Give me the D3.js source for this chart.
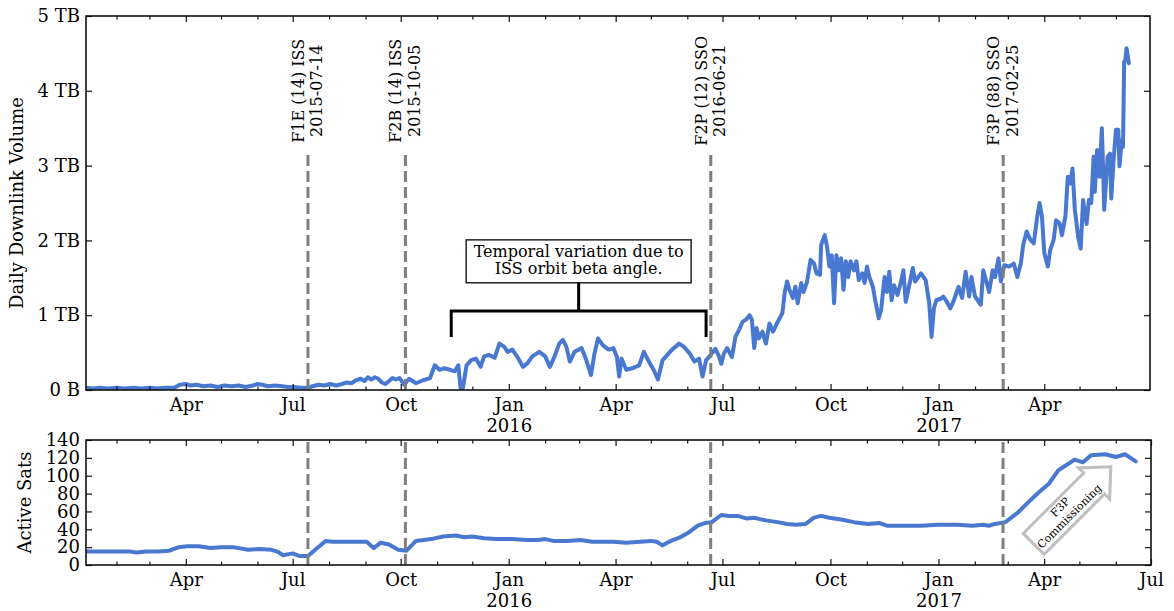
<!DOCTYPE html>
<html>
<head>
<meta charset="utf-8">
<script src="https://cdn.jsdelivr.net/npm/d3@7"></script>
<style>
  html, body { margin: 0; padding: 0; background: #fff; }
  svg { display: block; font-family: 'DejaVu Serif', serif; }
</style>
</head>
<body>
<svg id="chart" width="1174" height="611"></svg>
<script>
// ---- Daily downlink volume (TB) ----
const downlinkDates = [
  "2015-01-06","2015-01-12","2015-01-18","2015-01-25",
  "2015-02-01","2015-02-08","2015-02-15","2015-02-22",
  "2015-03-01","2015-03-08","2015-03-15","2015-03-22","2015-03-27",
  "2015-04-01","2015-04-05","2015-04-10","2015-04-16","2015-04-22","2015-04-28",
  "2015-05-04","2015-05-10","2015-05-16","2015-05-22","2015-05-28",
  "2015-06-01","2015-06-05","2015-06-10","2015-06-16","2015-06-22","2015-06-27",
  "2015-07-02","2015-07-08","2015-07-14","2015-07-18","2015-07-23","2015-07-28",
  "2015-08-02","2015-08-07","2015-08-12","2015-08-16","2015-08-20","2015-08-24","2015-08-28","2015-08-31",
  "2015-09-03","2015-09-06","2015-09-09","2015-09-12","2015-09-15","2015-09-18","2015-09-21","2015-09-24","2015-09-27","2015-09-30",
  "2015-10-04","2015-10-08","2015-10-14","2015-10-20","2015-10-26","2015-10-30",
  "2015-11-03","2015-11-07","2015-11-12","2015-11-16","2015-11-19","2015-11-21","2015-11-23","2015-11-26","2015-11-30",
  "2015-12-04","2015-12-08","2015-12-11","2015-12-15","2015-12-20","2015-12-24","2015-12-28","2015-12-31",
  "2016-01-04","2016-01-08","2016-01-13","2016-01-17","2016-01-21","2016-01-27",
  "2016-02-01","2016-02-05","2016-02-09","2016-02-13","2016-02-16","2016-02-19","2016-02-22","2016-02-26",
  "2016-03-03","2016-03-07","2016-03-11","2016-03-14","2016-03-17","2016-03-21","2016-03-26","2016-03-30",
  "2016-04-02","2016-04-04","2016-04-06","2016-04-10","2016-04-15","2016-04-21","2016-04-25","2016-04-30",
  "2016-05-04","2016-05-07","2016-05-11","2016-05-15","2016-05-19","2016-05-25","2016-05-29",
  "2016-06-03","2016-06-07","2016-06-11","2016-06-14","2016-06-17","2016-06-21","2016-06-25","2016-06-28","2016-06-30",
  "2016-07-02","2016-07-05","2016-07-07","2016-07-09","2016-07-12","2016-07-15","2016-07-18","2016-07-21","2016-07-24","2016-07-26","2016-07-28","2016-07-30",
  "2016-08-01","2016-08-04","2016-08-07","2016-08-10","2016-08-13","2016-08-17","2016-08-21","2016-08-23","2016-08-25","2016-08-27","2016-08-30",
  "2016-09-01","2016-09-03","2016-09-06","2016-09-08","2016-09-11","2016-09-14","2016-09-17","2016-09-19","2016-09-22","2016-09-23","2016-09-26","2016-09-28","2016-09-30",
  "2016-10-02","2016-10-04","2016-10-06","2016-10-08","2016-10-10","2016-10-12","2016-10-14","2016-10-16","2016-10-18","2016-10-21","2016-10-23","2016-10-25","2016-10-28","2016-10-30",
  "2016-11-01","2016-11-03","2016-11-06","2016-11-08","2016-11-11","2016-11-13","2016-11-16","2016-11-18","2016-11-20","2016-11-22","2016-11-24","2016-11-27","2016-11-30",
  "2016-12-02","2016-12-04","2016-12-07","2016-12-10","2016-12-12","2016-12-17","2016-12-21","2016-12-24","2016-12-26","2016-12-28","2016-12-30",
  "2017-01-03","2017-01-05","2017-01-08","2017-01-11","2017-01-14","2017-01-18","2017-01-21","2017-01-24","2017-01-27","2017-01-29",
  "2017-02-01","2017-02-06","2017-02-08","2017-02-11","2017-02-13","2017-02-16","2017-02-18","2017-02-21","2017-02-23","2017-02-26",
  "2017-03-02","2017-03-06","2017-03-09","2017-03-12","2017-03-14","2017-03-17","2017-03-20","2017-03-23","2017-03-26","2017-03-28","2017-03-30",
  "2017-04-01","2017-04-04","2017-04-06","2017-04-09","2017-04-11","2017-04-14","2017-04-16","2017-04-19","2017-04-21","2017-04-23","2017-04-25","2017-04-27","2017-04-30",
  "2017-05-02","2017-05-04","2017-05-07","2017-05-09","2017-05-11","2017-05-13","2017-05-14","2017-05-16","2017-05-18","2017-05-20","2017-05-21","2017-05-22","2017-05-25","2017-05-27","2017-05-28","2017-05-30",
  "2017-06-01","2017-06-03","2017-06-04","2017-06-06","2017-06-07","2017-06-08","2017-06-09","2017-06-10","2017-06-12"
];
const downlinkTB = [
  0.03,0.02,0.03,0.02,
  0.03,0.02,0.03,0.02,
  0.03,0.02,0.03,0.03,0.07,
  0.08,0.06,0.07,0.05,0.06,0.04,
  0.06,0.05,0.06,0.04,0.06,
  0.08,0.07,0.05,0.06,0.05,0.04,
  0.04,0.03,0.03,0.05,0.07,0.06,
  0.08,0.06,0.08,0.10,0.09,0.13,0.15,0.12,
  0.17,0.14,0.17,0.15,0.10,0.08,0.12,0.16,0.14,0.16,
  0.07,0.15,0.09,0.13,0.16,0.33,
  0.27,0.29,0.27,0.25,0.33,0.02,0.03,0.33,0.40,
  0.42,0.31,0.45,0.47,0.43,0.62,0.58,0.51,
  0.54,0.45,0.31,0.36,0.45,0.51,
  0.45,0.31,0.45,0.62,0.67,0.58,0.38,0.51,
  0.56,0.40,0.20,0.49,0.69,0.60,0.54,0.56,
  0.45,0.18,0.42,0.27,0.29,0.33,0.51,0.36,
  0.25,0.14,0.40,0.47,0.54,0.62,0.58,
  0.49,0.38,0.42,0.18,0.40,0.47,0.55,0.45,0.35,
  0.48,0.56,0.50,0.44,0.71,0.80,0.91,0.94,1.00,0.94,0.56,0.83,
  0.69,0.78,0.62,0.89,0.78,0.91,1.03,1.31,1.45,1.34,1.23,
  1.38,1.16,1.43,1.31,1.45,1.74,1.69,1.56,1.54,1.94,2.07,1.92,1.65,
  1.80,1.16,1.80,1.60,1.76,1.34,1.72,1.51,1.72,1.60,1.72,1.47,1.56,1.43,
  1.65,1.51,1.38,1.20,0.96,1.07,1.51,1.31,1.58,1.20,1.40,1.27,1.45,
  1.60,1.18,1.40,1.63,1.45,1.56,1.47,1.16,0.71,1.09,1.20,
  1.22,1.25,1.18,1.09,1.20,1.38,1.23,1.58,1.25,1.51,
  1.25,1.14,1.60,1.43,1.31,1.60,1.51,1.76,1.45,1.67,
  1.65,1.69,1.51,1.69,1.94,2.12,2.01,1.96,2.32,2.50,2.32,
  1.83,1.65,1.87,2.01,2.27,2.23,2.07,2.32,2.85,2.76,2.96,2.41,2.03,
  1.89,2.54,2.22,2.54,2.50,3.12,2.65,3.21,2.85,3.50,2.99,2.41,3.12,3.16,2.56,3.07,
  3.48,3.48,2.99,3.34,3.25,4.39,4.41,4.57,4.37
];

// ---- Active satellites ----
const satDates = [
  "2015-01-06","2015-02-13","2015-02-18","2015-02-26","2015-03-08","2015-03-18","2015-03-26",
  "2015-04-02","2015-04-12","2015-04-22","2015-05-01","2015-05-11","2015-05-24","2015-06-03",
  "2015-06-13","2015-06-18","2015-06-23","2015-07-01","2015-07-07","2015-07-14","2015-07-22",
  "2015-07-29","2015-08-04","2015-08-14","2015-08-27","2015-09-02","2015-09-08","2015-09-14",
  "2015-09-21","2015-09-29","2015-10-06","2015-10-14","2015-10-27","2015-11-06","2015-11-17",
  "2015-11-24","2015-12-01","2015-12-11","2015-12-21","2016-01-04","2016-01-16","2016-01-26",
  "2016-02-01","2016-02-08","2016-02-20","2016-03-02","2016-03-12","2016-03-30","2016-04-10",
  "2016-04-22","2016-05-01","2016-05-06","2016-05-11","2016-05-18","2016-05-26","2016-06-03",
  "2016-06-10","2016-06-16","2016-06-22","2016-06-30","2016-07-07","2016-07-14","2016-07-22",
  "2016-07-28","2016-08-07","2016-08-17","2016-08-25","2016-09-02","2016-09-10","2016-09-17",
  "2016-09-23","2016-09-30","2016-10-10","2016-10-21","2016-11-02","2016-11-12","2016-11-18",
  "2016-12-01","2016-12-17","2017-01-01","2017-01-17","2017-01-30","2017-02-08","2017-02-13",
  "2017-02-18","2017-02-23","2017-02-27","2017-03-09","2017-03-19","2017-03-27","2017-04-05",
  "2017-04-13","2017-04-20","2017-04-27","2017-05-04","2017-05-11","2017-05-23","2017-06-01",
  "2017-06-09","2017-06-18"
];
const activeSats = [
  15,15,14,15,15,16,20,
  21,21,19,20,20,17,18,
  17,15,11,13,10,10,19,
  27,26,26,26,26,19,25,
  23,17,16,27,29,32,33,
  31,32,30,29,29,28,28,
  29,27,27,28,26,26,25,
  26,27,26,22,27,31,37,
  44,47,48,56,55,55,52,
  53,50,48,46,45,46,53,
  55,53,51,48,46,47,44,
  44,44,45,45,44,45,44,
  46,47,48,58,71,81,91,
  106,112,118,115,123,124,121,
  124,116
];

// ---- Launch markers ----
const launchDates = ["2015-07-14", "2015-10-05", "2016-06-21", "2017-02-25"];
const launchNames = ["F1E (14) ISS", "F2B (14) ISS", "F2P (12) SSO", "F3P (88) SSO"];

// ---- Axis ticks ----
const volumeTicks = [0, 1, 2, 3, 4, 5];
const volumeTickLabels = ["0 B", "1 TB", "2 TB", "3 TB", "4 TB", "5 TB"];
const satTicks = [0, 20, 40, 60, 80, 100, 120, 140];

// ---- Annotations ----
const betaNote = ["Temporal variation due to", "ISS orbit beta angle."];
const betaSpan = ["2015-11-13", "2016-06-17"];   // bracket ends
const betaLevels = { legBottom: 0.71, bar: 1.055, textTop: 1.78, textBottom: 1.547 };
const commissionNote = ["F3P", "Commissioning"];
const commissionAt = { date: "2017-04-19", sats: 59 };

// =====================================================================
const parseDay = d3.utcParse("%Y-%m-%d");
const svg = d3.select("#chart");

const BLUE = "#4878d0";
const INK = "#111";

const topBox = { left: 86, right: 1150, top: 16, bottom: 390 };
const botBox = { left: 86, right: 1151, top: 440, bottom: 565 };

const xTop = d3.scaleUtc()
  .domain([parseDay("2015-01-06"), parseDay("2017-06-30")])
  .range([topBox.left, topBox.right]);
const xBot = d3.scaleUtc()
  .domain([parseDay("2015-01-06"), parseDay("2017-07-01")])
  .range([botBox.left, botBox.right]);
const yTop = d3.scaleLinear().domain([0, 5]).range([topBox.bottom, topBox.top]);
const yBot = d3.scaleLinear().domain([0, 140]).range([botBox.bottom, botBox.top]);

const downlink = downlinkDates.map((d, i) => ({ date: parseDay(d), v: downlinkTB[i] }));
const sats = satDates.map((d, i) => ({ date: parseDay(d), v: activeSats[i] }));
const launches = launchDates.map((d, i) => ({ date: parseDay(d), name: launchNames[i], label: d }));

// clip paths for the two panels
const defs = svg.append("defs");
function addClip(id, box) {
  defs.append("clipPath").attr("id", id).append("rect")
    .attr("x", box.left).attr("y", box.top)
    .attr("width", box.right - box.left).attr("height", box.bottom - box.top);
}
addClip("clipTop", topBox);
addClip("clipBot", botBox);

function styleAxis(g) {
  g.attr("font-family", null).attr("font-size", 18).attr("fill", null);
  g.select(".domain").remove();
  g.selectAll(".tick line").attr("stroke", INK).attr("stroke-width", 1.2);
  g.selectAll(".tick text").attr("fill", "#000");
  return g;
}

function drawAxes(x, y, box, yVals, yFmt) {
  const [d0, d1] = x.domain();
  const stop = d3.utcDay.offset(d1, 1);
  const majors = d3.utcMonth.every(3).range(d0, stop);
  const minors = d3.utcMonth.range(d0, stop).filter(d => d.getUTCMonth() % 3 !== 0);

  // bottom, labelled
  const gx = svg.append("g").attr("transform", `translate(0,${box.bottom})`)
    .call(d3.axisBottom(x).tickValues(majors).tickSize(-6).tickSizeOuter(0)
      .tickPadding(8).tickFormat(d3.utcFormat("%b")));
  styleAxis(gx);
  gx.selectAll(".tick text").each(function (d) {
    if (d.getUTCMonth() === 0) {
      const t = d3.select(this).text(null);
      t.append("tspan").attr("x", 0).text("Jan");
      t.append("tspan").attr("x", 0).attr("dy", "1.17em").text(d.getUTCFullYear());
    }
  });
  styleAxis(svg.append("g").attr("transform", `translate(0,${box.bottom})`)
    .call(d3.axisBottom(x).tickValues(minors).tickSize(-3.5).tickSizeOuter(0).tickFormat("")));

  // top, ticks only
  styleAxis(svg.append("g").attr("transform", `translate(0,${box.top})`)
    .call(d3.axisTop(x).tickValues(majors).tickSize(-6).tickSizeOuter(0).tickFormat("")));
  styleAxis(svg.append("g").attr("transform", `translate(0,${box.top})`)
    .call(d3.axisTop(x).tickValues(minors).tickSize(-3.5).tickSizeOuter(0).tickFormat("")));

  // left, labelled
  styleAxis(svg.append("g").attr("transform", `translate(${box.left},0)`)
    .call(d3.axisLeft(y).tickValues(yVals).tickSize(-6).tickSizeOuter(0)
      .tickPadding(6).tickFormat(yFmt)));
  // right, ticks only
  styleAxis(svg.append("g").attr("transform", `translate(${box.right},0)`)
    .call(d3.axisRight(y).tickValues(yVals).tickSize(-6).tickSizeOuter(0).tickFormat("")));
}

function drawFrame(box) {
  svg.append("rect")
    .attr("x", box.left).attr("y", box.top)
    .attr("width", box.right - box.left).attr("height", box.bottom - box.top)
    .attr("fill", "none").attr("stroke", INK).attr("stroke-width", 1.6);
}

// ================= Top panel: daily downlink volume =================
svg.append("path")
  .datum(downlink)
  .attr("clip-path", "url(#clipTop)")
  .attr("fill", "none")
  .attr("stroke", BLUE)
  .attr("stroke-width", 4)
  .attr("stroke-linejoin", "round")
  .attr("stroke-linecap", "round")
  .attr("d", d3.line().x(d => xTop(d.date)).y(d => yTop(d.v)));

// launch markers
const launchTop = svg.append("g");
launches.forEach(l => {
  const lx = xTop(l.date);
  launchTop.append("line")
    .attr("x1", lx).attr("x2", lx)
    .attr("y1", yTop(0)).attr("y2", yTop(3.2))
    .attr("stroke", "#7f7f7f").attr("stroke-width", 3)
    .attr("stroke-dasharray", "11,5");
  const yc = yTop(4.0);
  launchTop.append("text")
    .attr("transform", `translate(${lx - 4},${yc}) rotate(-90)`)
    .attr("text-anchor", "middle").attr("font-size", 16).attr("fill", "#000")
    .text(l.name);
  launchTop.append("text")
    .attr("transform", `translate(${lx + 14.5},${yc}) rotate(-90)`)
    .attr("text-anchor", "middle").attr("font-size", 16).attr("fill", "#000")
    .text(l.label);
});

// beta-angle note with bracket
const bx0 = xTop(parseDay(betaSpan[0]));
const bx1 = xTop(parseDay(betaSpan[1]));
const bxc = (bx0 + bx1) / 2;
const noteG = svg.append("g");
const noteText = noteG.append("g").attr("font-size", 16).attr("fill", "#000").attr("text-anchor", "middle");
noteText.append("text").attr("x", bxc).attr("y", yTop(betaLevels.textTop)).text(betaNote[0]);
noteText.append("text").attr("x", bxc).attr("y", yTop(betaLevels.textBottom)).text(betaNote[1]);
const nb = noteText.node().getBBox();
const boxRect = { x: nb.x - 7.5, y: nb.y - 2, w: nb.width + 15, h: nb.height + 6.5 };
noteG.insert("rect", ":first-child")
  .attr("x", boxRect.x).attr("y", boxRect.y)
  .attr("width", boxRect.w).attr("height", boxRect.h)
  .attr("fill", "#fff").attr("stroke", "#222").attr("stroke-width", 1.5);
noteG.append("path")
  .attr("fill", "none").attr("stroke", "#000").attr("stroke-width", 3)
  .attr("stroke-linejoin", "miter")
  .attr("d", `M${bx0},${yTop(betaLevels.legBottom)} V${yTop(betaLevels.bar)} H${bx1} V${yTop(betaLevels.legBottom)}` +
             ` M${bxc},${yTop(betaLevels.bar)} V${boxRect.y + boxRect.h}`);

drawAxes(xTop, yTop, topBox, volumeTicks, (d, i) => volumeTickLabels[volumeTicks.indexOf(d)]);
drawFrame(topBox);

svg.append("text")
  .attr("transform", `translate(22.5,${(topBox.top + topBox.bottom) / 2}) rotate(-90)`)
  .attr("text-anchor", "middle").attr("font-size", 18).attr("fill", "#000")
  .text("Daily Downlink Volume");

// ================= Bottom panel: active satellites =================
svg.append("path")
  .datum(sats)
  .attr("clip-path", "url(#clipBot)")
  .attr("fill", "none")
  .attr("stroke", BLUE)
  .attr("stroke-width", 4)
  .attr("stroke-linejoin", "round")
  .attr("stroke-linecap", "round")
  .attr("d", d3.line().x(d => xBot(d.date)).y(d => yBot(d.v)));

launches.forEach(l => {
  const lx = xBot(l.date);
  svg.append("line")
    .attr("x1", lx).attr("x2", lx)
    .attr("y1", yBot(0)).attr("y2", yBot(140))
    .attr("stroke", "#7f7f7f").attr("stroke-width", 3)
    .attr("stroke-dasharray", "11,5");
});

// commissioning arrow box
const ax = xBot(parseDay(commissionAt.date));
const ay = yBot(commissionAt.sats);
const arrowG = svg.append("g").attr("transform", `translate(${ax},${ay}) rotate(-45)`);
const tail = -44.7, neck = 40.8, tip = 64.3, half = 14.75, headHalf = 22;
arrowG.append("path")
  .attr("d", `M${tail},${-half} L${neck},${-half} L${neck},${-headHalf} L${tip},0 ` +
             `L${neck},${headHalf} L${neck},${half} L${tail},${half} Z`)
  .attr("fill", "#fff").attr("stroke", "#bfbfbf").attr("stroke-width", 3)
  .attr("stroke-linejoin", "miter");
arrowG.append("text").attr("x", 0).attr("y", -3.5)
  .attr("text-anchor", "middle").attr("font-size", 11).attr("fill", "#000")
  .text(commissionNote[0]);
arrowG.append("text").attr("x", 0).attr("y", 9.5)
  .attr("text-anchor", "middle").attr("font-size", 11).attr("fill", "#000")
  .text(commissionNote[1]);

drawAxes(xBot, yBot, botBox, satTicks, d => d);
drawFrame(botBox);

svg.append("text")
  .attr("transform", `translate(31,${(botBox.top + botBox.bottom) / 2}) rotate(-90)`)
  .attr("text-anchor", "middle").attr("font-size", 18).attr("fill", "#000")
  .text("Active Sats");
</script>
</body>
</html>
